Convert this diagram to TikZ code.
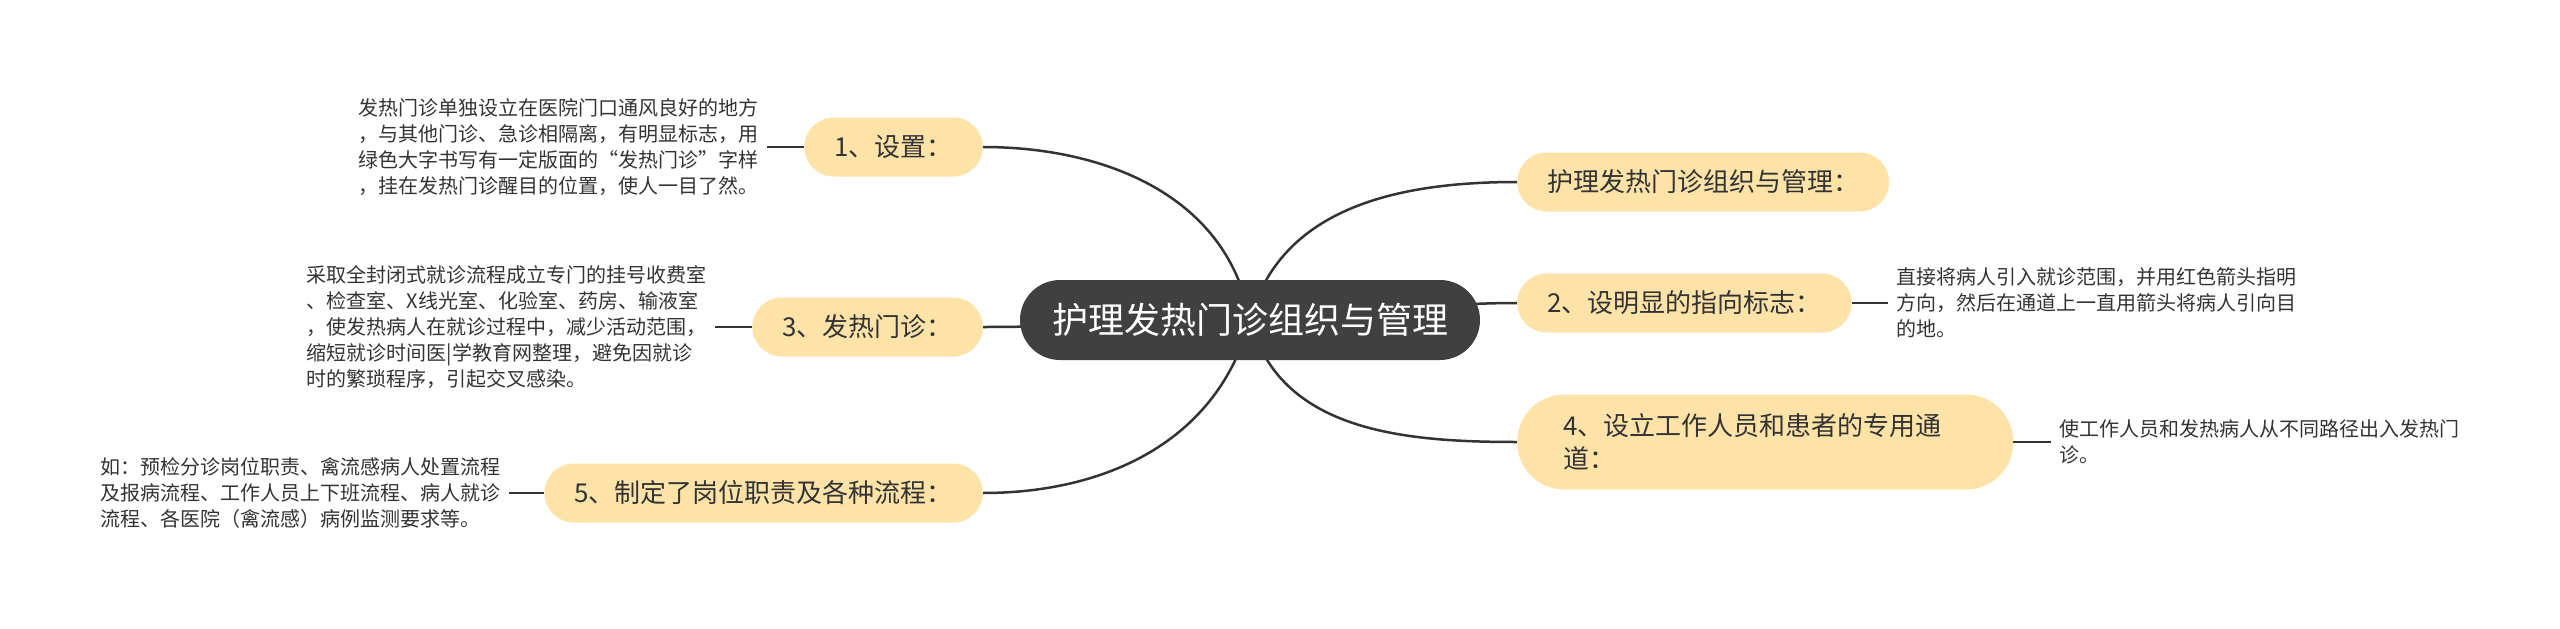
\documentclass[tikz,border=0pt]{standalone}
\usepackage{fontspec}
\setmainfont{Noto Sans CJK SC}
\usepackage{tikz}
\usetikzlibrary{backgrounds}
\definecolor{rootgray}{HTML}{404040}
\definecolor{topicyellow}{HTML}{FDE3A8}
\definecolor{inkgray}{HTML}{333333}

\begin{document}
\begin{tikzpicture}[
  root/.style={rectangle,rounded corners=40bp,fill=rootgray,text=white,minimum height=80bp,minimum width=460bp,inner xsep=0bp,inner ysep=0bp,font=\fontsize{36bp}{44bp}\selectfont},
  topic/.style={rectangle,rounded corners=29.5bp,fill=topicyellow,text=inkgray,minimum height=59bp,inner xsep=30bp,inner ysep=0bp,font=\fontsize{26bp}{33bp}\selectfont},
  note/.style={text=inkgray,align=left,inner xsep=8bp,inner ysep=0bp,font=\fontsize{20bp}{26bp}\selectfont},
  link/.style={draw=inkgray,line width=2.5bp}
]
\useasboundingbox (0bp,0bp) rectangle (2560bp,-629bp);
\node (root) at (1250bp,-320bp)[root] {护理发热门诊组织与管理};
\node (set) at (983bp,-147bp)[topic,anchor=east] {1、设置：};
\node (clinic) at (983bp,-327bp)[topic,anchor=east] {3、发热门诊：};
\node (flow) at (983bp,-493bp)[topic,anchor=east] {5、制定了岗位职责及各种流程：};
\node (manage) at (1517bp,-182bp)[topic,anchor=west] {护理发热门诊组织与管理：};
\node (sign) at (1517bp,-303bp)[topic,anchor=west] {2、设明显的指向标志：};
\node (path) at (1517bp,-442bp)[topic,anchor=west,rounded corners=47bp,minimum height=95bp,inner xsep=46bp,text width=404bp,align=left] {4、设立工作人员和患者的专用通\\道：};
\node (setnote) at (767bp,-147bp)[note,anchor=east] {发热门诊单独设立在医院门口通风良好的地方\\，与其他门诊、急诊相隔离，有明显标志，用\\绿色大字书写有一定版面的“发热门诊”字样\\，挂在发热门诊醒目的位置，使人一目了然。};
\node (clinicnote) at (715bp,-327bp)[note,anchor=east] {采取全封闭式就诊流程成立专门的挂号收费室\\、检查室、X线光室、化验室、药房、输液室\\，使发热病人在就诊过程中，减少活动范围，\\缩短就诊时间医|学教育网整理，避免因就诊\\时的繁琐程序，引起交叉感染。};
\node (flownote) at (509bp,-493bp)[note,anchor=east] {如：预检分诊岗位职责、禽流感病人处置流程\\及报病流程、工作人员上下班流程、病人就诊\\流程、各医院（禽流感）病例监测要求等。};
\node (signnote) at (1888bp,-303bp)[note,anchor=west] {直接将病人引入就诊范围，并用红色箭头指明\\方向，然后在通道上一直用箭头将病人引向目\\的地。};
\node (pathnote) at (2051bp,-442bp)[note,anchor=west] {使工作人员和发热病人从不同路径出入发热门\\诊。};
\draw[link] (set.west) -- (setnote.east);
\draw[link] (clinic.west) -- (clinicnote.east);
\draw[link] (flow.west) -- (flownote.east);
\draw[link] (sign.east) -- (signnote.west);
\draw[link] (path.east) -- (pathnote.west);
\begin{pgfonlayer}{background}
\draw[link] (root.center) to[out=100,in=0] (set.east);
\draw[link] (root.center) to[out=180,in=0] (clinic.east);
\draw[link] (root.center) to[out=255,in=0] (flow.east);
\draw[link] (root.center) to[out=75,in=180] (manage.west);
\draw[link] (root.center) to[out=0,in=180] (sign.west);
\draw[link] (root.center) to[out=285,in=180] (path.west);
\end{pgfonlayer}
\end{tikzpicture}
\end{document}
